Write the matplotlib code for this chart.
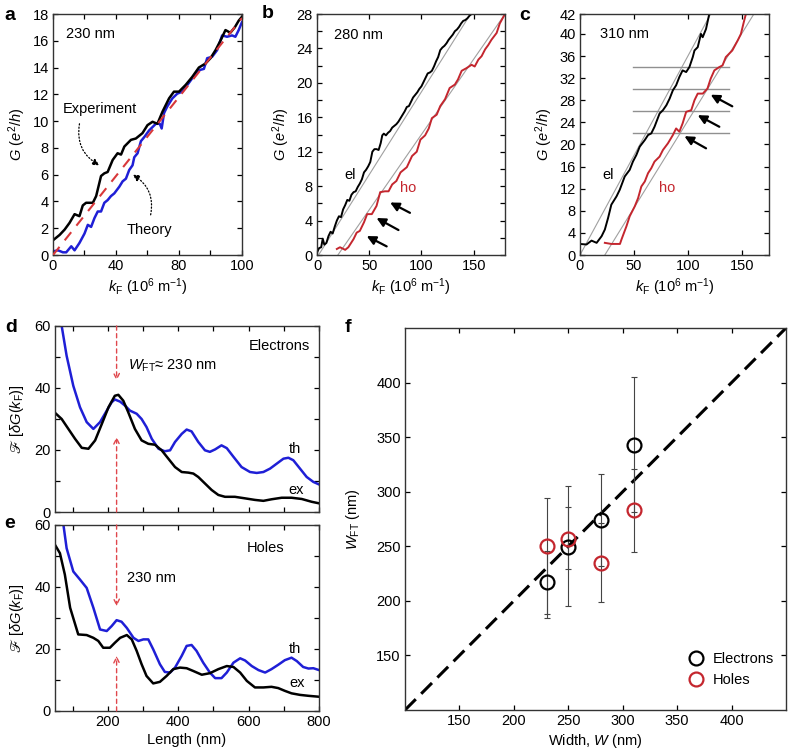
import matplotlib
matplotlib.use("Agg")
import matplotlib.pyplot as plt
import numpy as np

plt.rcParams['font.family'] = ['Liberation Sans', 'DejaVu Sans']
plt.rcParams['font.size'] = 10.5
plt.rcParams['mathtext.fontset'] = 'custom'
plt.rcParams['mathtext.rm'] = 'Liberation Sans'
plt.rcParams['mathtext.it'] = 'Liberation Sans:italic'
plt.rcParams['mathtext.fallback'] = 'stix'
plt.rcParams['axes.linewidth'] = 1.0
plt.rcParams['axes.edgecolor'] = '#333333'

BLUE = '#1f1fd6'
RED = '#c4262e'
GRAY = '#a0a0a0'

# ---- panel a (230 nm) ----
a_exp_k = [0, 4.2, 7.4, 10.5, 13.7, 16.8, 18.9, 21, 25.3, 27.4, 30.5, 32.6, 34.7, 37.9, 41, 43.2,
           45.3, 49.5, 52.6, 56.8, 60, 63.2, 66.3, 69.5, 73.7, 76.8, 80, 84.2, 88.4, 92.6, 96.8,
           100, 103.2, 106.3, 109.5, 112.6, 115.4, 117.9, 120]
a_exp_g = [1.1, 1.5, 1.9, 2.4, 3.05, 2.9, 3.7, 3.9, 3.9, 4.4, 5.9, 6.1, 6.2, 7.1, 7.6, 7.5,
           8.1, 8.6, 8.7, 9.1, 9.7, 9.95, 9.8, 10.7, 11.7, 12.2, 12.2, 12.7, 13.3, 14.0, 14.3,
           14.7, 15.3, 16.0, 16.8, 16.6, 17.0, 17.5, 17.8]
a_th_k = [0, 3.2, 6.3, 8.4, 11.6, 13.7, 16.8, 20, 22.1, 24.2, 26.3, 28.4, 30.5, 32.6, 34.7, 36.8,
          38.9, 42.1, 44.2, 46.3, 48.4, 50.5, 51.6, 53.7, 55.8, 57.9, 61, 65.3, 67.8, 69, 70.5,
          72.6, 75.8, 78.9, 82.1, 85.3, 88.4, 92.6, 95.8, 97.9, 101, 104.2, 107.4, 110.5, 113.7,
          115.8, 117.9, 120]
a_th_g = [0.27, 0.35, 0.2, 0.2, 0.65, 0.35, 0.9, 1.6, 2.25, 2.1, 2.75, 3.25, 3.25, 3.9, 4.1, 4.4,
          4.6, 5.1, 5.5, 5.7, 6.35, 6.7, 7.3, 7.6, 8.5, 8.8, 9.3, 9.8, 9.8, 9.45, 10.6,
          11.1, 11.7, 12.05, 12.2, 12.7, 13.2, 13.8, 13.9, 14.7, 14.8, 15.3, 16.4, 16.3, 16.4,
          16.3, 16.8, 17.4]
a_fit_k = [0, 120]
a_fit_g = [0, 17.7]
a_xticks = [0, 20, 40, 60, 80, 100, 120]
a_xticklabels = ['0', '', '40', '', '80', '', '100']
a_yticks = [0, 2, 4, 6, 8, 10, 12, 14, 16, 18]

# ---- panel b (280 nm) ----
b_el_k = [0, 2, 4, 5.5, 7, 9, 11, 13, 15, 17, 19, 21, 23, 25, 27, 29, 31, 33, 35, 37, 39, 41, 43,
          45, 47, 49, 51, 53, 55, 57, 59, 61, 62.5, 64, 66, 68, 70, 72, 74, 76, 78, 80, 82, 84,
          86, 88, 90, 92, 94, 96, 98, 100, 102, 104, 106, 108, 110, 112, 114, 116, 118, 120,
          122, 124, 126, 128, 130, 132, 134, 136, 138, 140, 142, 144, 146, 148, 150]
b_el_g = [0.3, 0.8, 0.9, 1.9, 1.2, 1.4, 2.2, 2.7, 2.5, 3.3, 4.0, 4.5, 4.4, 5.3, 5.8, 6.4, 6.3,
          7.0, 7.3, 7.4, 7.9, 8.3, 8.8, 9.6, 9.9, 10.3, 10.8, 12.0, 12.3, 12.3, 12.2, 13.0, 13.9,
          14.1, 13.9, 14.2, 14.4, 14.8, 15.0, 15.2, 15.5, 15.9, 16.3, 16.7, 17.2, 17.3, 17.8,
          18.3, 18.6, 18.9, 19.3, 19.6, 20.1, 20.6, 21.1, 21.2, 21.4, 21.9, 22.5, 23.0, 23.8,
          24.1, 24.3, 24.6, 25.0, 25.3, 25.6, 26.0, 26.2, 26.5, 26.9, 27.2, 27.3, 27.5, 27.8,
          28.0, 28.3]
b_ho_k = [19, 22, 27, 30, 35, 38, 41, 45, 48, 52.5, 57, 60.5, 65, 68.5, 72, 76, 80, 86, 91,
          95.5, 99, 103.5, 107, 110, 114.6, 118, 122.6, 127, 132, 135, 138.5, 143, 148, 151,
          154.5, 157.6, 161, 164, 167, 172, 175, 180]
b_ho_g = [0.7, 0.9, 0.6, 0.9, 1.85, 2.6, 2.8, 3.8, 4.75, 4.75, 5.7, 7.3, 7.4, 7.4, 8.2, 8.6,
          9.6, 10.2, 11.5, 12.0, 13.4, 13.9, 14.7, 15.9, 16.3, 17.3, 18.1, 19.4, 19.8, 20.4,
          21.4, 21.7, 22.1, 21.9, 22.7, 23.1, 23.9, 24.4, 25.0, 25.8, 26.9, 28.0]
b_el_fit_k = [1.5, 147]
b_el_fit_g = [0, 28]
b_ho_fit_k = [20, 180]
b_ho_fit_g = [0, 28]
b_yticks = [0, 2, 4, 6, 8, 10, 12, 14, 16, 18, 20, 22, 24, 26, 28]
b_yticklabels = ['0', '', '4', '', '8', '', '12', '', '16', '', '20', '', '24', '', '28']

# ---- panel c (310 nm) ----
c_el_k = [0, 6, 10.7, 15.4, 20, 23, 26, 29, 33.8, 36.8, 41.4, 46, 49, 52.2, 55.3, 60, 63, 66, 69,
          73.7, 76.8, 80, 83, 86, 89, 92, 95, 98.3, 101.3, 104.4, 106, 109, 112, 113.6, 116.7,
          119.7]
c_el_g = [2.0, 1.9, 2.6, 2.2, 3.4, 4.6, 6.7, 9.1, 10.6, 11.8, 14.2, 15.4, 16.9, 18.1, 19.6, 20.8,
          21.7, 22.0, 23.2, 25.6, 26.2, 27.1, 28.3, 29.8, 30.7, 32.2, 33.4, 33.1, 34.0, 35.8,
          37.0, 37.6, 40.0, 39.4, 40.9, 43.6]
c_ho_k = [23, 29, 37, 38.4, 43, 46, 50.7, 53.8, 56.8, 60, 63, 66, 69, 73.7, 76.8, 81.4, 86, 89,
          92, 95, 98.3, 103, 106, 109, 113.7, 118, 121, 124.4, 129, 132, 135, 138, 141, 146,
          149, 152, 153.6]
c_ho_g = [2.2, 2.0, 2.0, 2.8, 5.2, 7.0, 8.8, 10.3, 12.4, 13.3, 14.8, 15.7, 16.9, 17.8, 19.0,
          20.2, 21.7, 22.9, 22.3, 23.8, 25.9, 26.2, 28.0, 29.2, 29.2, 30.1, 31.9, 33.4, 34.0,
          34.3, 35.8, 36.4, 37.0, 38.8, 40.0, 42.4, 43.6]
c_el_fit_k = [0, 121]
c_el_fit_g = [0, 43.6]
c_ho_fit_k = [23, 161]
c_ho_fit_g = [0, 43.6]
c_plateaus = [22, 26, 30, 34]
c_plateau_k = [49, 138]
c_yticks = [0, 4, 8, 12, 16, 20, 24, 28, 32, 36, 40, 43.6]
c_yticklabels = ['0', '4', '8', '12', '16', '20', '24', '28', '32', '36', '40', '42']

# ---- panel d (electrons FT) ----
d_th_len = [69, 83, 102, 121, 140, 159, 178, 197, 211, 220, 235, 249, 263, 282, 296, 310, 325,
            344, 362, 377, 391, 410, 424, 438, 457, 476, 490, 505, 523, 538, 557, 580, 604, 623,
            642, 661, 680, 699, 713, 727, 746, 765, 784, 800]
d_th_ft = [60, 50.4, 40.7, 33.8, 29, 26.8, 29, 32.7, 35.4, 36.3, 35.6, 34.3, 32.7, 31.7, 30, 27.4,
           23.6, 20.4, 19.6, 19.9, 22.6, 25.2, 26.6, 26, 22.6, 19.9, 19.4, 20.2, 21.5, 20.6, 17.8,
           14.5, 12.9, 12.6, 12.9, 14, 15.6, 17.2, 17.5, 16.7, 14, 11.3, 9.7, 8.9]
d_ex_len = [50, 69, 88, 107, 126, 145, 164, 183, 202, 220, 230, 244, 258, 277, 296, 315, 334,
            353, 372, 391, 410, 429, 443, 457, 476, 495, 514, 533, 561, 590, 618, 642, 665, 694,
            722, 751, 779, 800]
d_ex_ft = [32, 30, 26.8, 23.6, 20.7, 20.4, 23.1, 28.4, 33.8, 37.5, 37.8, 35.9, 32.2, 26.8, 23.1,
           22, 21.7, 19.9, 17.2, 14.5, 12.9, 12.7, 12.4, 11.3, 9.2, 7.1, 5.5, 4.9, 4.9, 4.4, 3.9,
           3.6, 4.1, 4.6, 4.6, 4.2, 3.3, 2.8]

# ---- panel e (holes FT) ----
e_th_len = [74, 83, 102, 121, 140, 159, 178, 197, 211, 225, 239, 254, 273, 287, 301, 315, 329,
            348, 362, 377, 391, 410, 424, 438, 452, 471, 490, 505, 523, 538, 557, 576, 590, 609,
            628, 647, 665, 684, 703, 722, 737, 755, 770, 784, 800]
e_th_ft = [60, 52.5, 45, 42.4, 39.7, 33.3, 26.3, 25.8, 27.4, 29.3, 28.8, 26.8, 23.6, 22.6, 23.1,
           23.1, 19.9, 15.1, 12.6, 12.4, 14, 17.8, 21, 21.3, 19.4, 15.6, 12.4, 10.6, 10.6, 12.4,
           15.6, 17, 16.3, 14.5, 13.2, 12.4, 13.5, 14.9, 16.4, 17.2, 16.1, 14.2, 13.7, 13.8, 13.2]
e_ex_len = [50, 64, 78, 93, 116, 140, 159, 173, 187, 206, 220, 235, 254, 268, 282, 296, 310, 329,
            348, 367, 386, 405, 424, 443, 467, 490, 514, 538, 557, 576, 595, 618, 642, 665, 684,
            703, 722, 746, 770, 800]
e_ex_ft = [53.6, 50.9, 44, 33.3, 24.7, 24.5, 23.6, 22.6, 20.4, 20.4, 22, 23.6, 24.5, 23.1, 19.4,
           15.1, 11.3, 8.9, 9.4, 11.3, 13.5, 14, 13.8, 12.9, 11.7, 12.2, 13.5, 14.5, 14.2, 12.4,
           9.7, 7.6, 7.6, 7.8, 7.4, 6.5, 5.7, 5.2, 4.9, 4.6]
de_xticks = [100, 200, 300, 400, 500, 600, 700, 800]
e_xticklabels = ['', '200', '', '400', '', '600', '', '800']
de_yticks = [0, 10, 20, 30, 40, 50, 60]
de_yticklabels = ['0', '', '20', '', '40', '', '60']
peak_len = 225
d_marks = [42.4, 24.2]
e_marks = [33.8, 17.8]

# ---- panel f ----
width = [230, 250, 280, 310]
el_wft = [217, 249, 274, 343]
el_lo = [188, 195, 232, 281]
el_hi = [246, 305, 316, 405]
ho_wft = [250, 257, 235, 283]
ho_lo = [184, 229, 199, 245]
ho_hi = [294, 286, 271, 321]
f_ticks = [150, 200, 250, 300, 350, 400]

W, H = 788, 754
fig = plt.figure(figsize=(W / 100, H / 100), dpi=100)


def box(x0, y0, x1, y1):
    return fig.add_axes([x0 / W, 1 - y1 / H, (x1 - x0) / W, (y1 - y0) / H])


def style(ax):
    ax.tick_params(direction='in', top=True, right=True, length=3.5, width=0.9, pad=3,
                   labelsize=10.5)


def arrow(ax, tail, head):
    ax.annotate('', xy=head, xytext=tail,
                arrowprops=dict(arrowstyle='-|>', color='k', lw=1.6, mutation_scale=13,
                                shrinkA=0, shrinkB=0))


ax = box(53, 14, 242, 255)
style(ax)
ax.plot(a_fit_k, a_fit_g, color='#d8383a', lw=1.5, dashes=(5, 4), zorder=3)
ax.plot(a_th_k, a_th_g, color=BLUE, lw=1.8)
ax.plot(a_exp_k, a_exp_g, color='k', lw=1.8)
ax.set_xlim(0, 120)
ax.set_ylim(0, 18)
ax.set_xticks(a_xticks)
ax.set_xticklabels(a_xticklabels)
ax.set_yticks(a_yticks)
ax.set_xlabel(r'$k_{\rm F}$ (10$^6$ m$^{-1}$)', labelpad=2)
ax.set_ylabel(r'$G$ ($e^2/h$)', labelpad=3)
ax.text(8.4, 16.5, '230 nm', va='center')
ax.text(30, 10.9, 'Experiment', ha='center', va='center')
ax.text(61, 1.85, 'Theory', ha='center', va='center')
ax.annotate('', xy=(29.5, 6.7), xytext=(16.8, 9.8),
            arrowprops=dict(arrowstyle='-|>', color='k', lw=0.9, ls=':', mutation_scale=10,
                            connectionstyle='arc3,rad=0.35', shrinkA=0, shrinkB=0))
ax.annotate('', xy=(50.5, 6.0), xytext=(62, 3.0),
            arrowprops=dict(arrowstyle='-|>', color='k', lw=0.9, ls=':', mutation_scale=10,
                            connectionstyle='arc3,rad=0.35', shrinkA=0, shrinkB=0))

ax = box(317, 14, 505, 255)
style(ax)
ax.plot(b_el_fit_k, b_el_fit_g, color=GRAY, lw=0.8)
ax.plot(b_ho_fit_k, b_ho_fit_g, color=GRAY, lw=0.8)
ax.plot(b_el_k, b_el_g, color='k', lw=1.4)
ax.plot(b_ho_k, b_ho_g, color=RED, lw=1.4)
ax.set_xlim(0, 180)
ax.set_ylim(0, 28)
ax.set_xticks([0, 50, 100, 150])
ax.set_yticks(b_yticks)
ax.set_yticklabels(b_yticklabels)
ax.set_xlabel(r'$k_{\rm F}$ (10$^6$ m$^{-1}$)', labelpad=2)
ax.set_ylabel(r'$G$ ($e^2/h$)', labelpad=3)
ax.text(16, 25.6, '280 nm', va='center')
ax.text(32, 9.3, 'el', ha='center', va='center')
ax.text(87, 7.8, 'ho', ha='center', va='center', color=RED)
arrow(ax, (89, 4.9), (70, 6.1))
arrow(ax, (78, 2.9), (57, 4.3))
arrow(ax, (66.7, 1.0), (47.6, 2.2))

ax = box(580, 14, 769, 255)
style(ax)
ax.plot(c_el_fit_k, c_el_fit_g, color=GRAY, lw=0.8)
ax.plot(c_ho_fit_k, c_ho_fit_g, color=GRAY, lw=0.8)
for g in c_plateaus:
    ax.plot(c_plateau_k, [g, g], color='#909090', lw=1.0)
ax.plot(c_el_k, c_el_g, color='k', lw=1.4)
ax.plot(c_ho_k, c_ho_g, color=RED, lw=1.4)
ax.set_xlim(0, 175)
ax.set_ylim(0, 43.6)
ax.set_xticks([0, 50, 100, 150])
ax.set_yticks(c_yticks)
ax.set_yticklabels(c_yticklabels)
ax.set_xlabel(r'$k_{\rm F}$ (10$^6$ m$^{-1}$)', labelpad=2)
ax.set_ylabel(r'$G$ ($e^2/h$)', labelpad=3)
ax.text(18.4, 39.9, '310 nm', va='center')
ax.text(26, 14.5, 'el', ha='center', va='center')
ax.text(81, 12.1, 'ho', ha='center', va='center', color=RED)
arrow(ax, (141, 26.9), (121, 29.0))
arrow(ax, (129, 23.2), (109, 25.3))
arrow(ax, (116.7, 19.3), (96.7, 21.5))


def ft_panel(ax, th_x, th_y, ex_x, ex_y, marks):
    style(ax)
    ax.plot(th_x, th_y, color=BLUE, lw=1.8)
    ax.plot(ex_x, ex_y, color='k', lw=1.8)
    ax.set_xlim(50, 800)
    ax.set_ylim(0, 60)
    ax.set_xticks(de_xticks)
    ax.set_yticks(de_yticks)
    ax.set_yticklabels(de_yticklabels)
    ax.set_ylabel(r'$ℱ\ [\delta G(k_{\rm F})]$', labelpad=6)
    kw = dict(arrowstyle='->', color='#e0474c', lw=1.0, ls=(0, (3, 2.5)), mutation_scale=10,
              shrinkA=0, shrinkB=0)
    ax.annotate('', xy=(peak_len, marks[0]), xytext=(peak_len, 60), arrowprops=kw)
    ax.annotate('', xy=(peak_len, marks[1]), xytext=(peak_len, 0), arrowprops=kw)


ax = box(55, 326, 319, 512)
ft_panel(ax, d_th_len, d_th_ft, d_ex_len, d_ex_ft, d_marks)
ax.set_xticklabels([])
ax.text(774, 53.4, 'Electrons', ha='right', va='center')
ax.text(258, 47.2, r'$W_{\rm FT}$≈ 230 nm', va='center')
ax.text(732, 20.2, 'th', ha='center', va='center')
ax.text(735, 7.1, 'ex', ha='center', va='center')

ax = box(55, 525, 319, 711)
ft_panel(ax, e_th_len, e_th_ft, e_ex_len, e_ex_ft, e_marks)
ax.set_xticklabels(e_xticklabels)
ax.set_xlabel('Length (nm)', labelpad=3)
ax.text(648, 52.7, 'Holes', ha='center', va='center')
ax.text(254, 42.9, '230 nm', va='center')
ax.text(732, 19.9, 'th', ha='center', va='center')
ax.text(737, 8.9, 'ex', ha='center', va='center')

ax = box(405, 328, 786, 710)
style(ax)
ax.axline((f_ticks[0], f_ticks[0]), slope=1, color='k', lw=2.2, dashes=(5, 2.5), zorder=1)
wa = np.array(width)
for vals, lo, hi, col in [(el_wft, el_lo, el_hi, 'k'), (ho_wft, ho_lo, ho_hi, RED)]:
    v = np.array(vals)
    ax.errorbar(wa, v, yerr=[v - np.array(lo), np.array(hi) - v], fmt='none',
                ecolor='#444444', elinewidth=0.8, capsize=2.2, capthick=0.8, zorder=2)
ax.plot(width, el_wft, 'o', ms=10, mfc='none', mec='k', mew=1.6, label='Electrons', zorder=4)
ax.plot(width, ho_wft, 'o', ms=10, mfc='none', mec=RED, mew=1.6, label='Holes', zorder=4)
ax.set_xlim(100, 450)
ax.set_ylim(100, 450)
ax.set_xticks(f_ticks)
ax.set_yticks(f_ticks)
ax.set_xlabel('Width, $W$ (nm)', labelpad=3)
ax.set_ylabel(r'$W_{\rm FT}$ (nm)', labelpad=10)
ax.legend(loc='lower right', frameon=False, handletextpad=0.2, borderaxespad=0,
          labelspacing=0.45, fontsize=10.5, bbox_to_anchor=(0.985, 0.045))

for lab, x, y in [('a', 10, 15), ('b', 268, 14), ('c', 525, 15), ('d', 11, 327),
                  ('e', 10, 524), ('f', 348, 327)]:
    fig.text(x / W, 1 - y / H, lab, fontsize=14, fontweight='bold', ha='center', va='center')

fig.savefig('out.png', dpi=100)
